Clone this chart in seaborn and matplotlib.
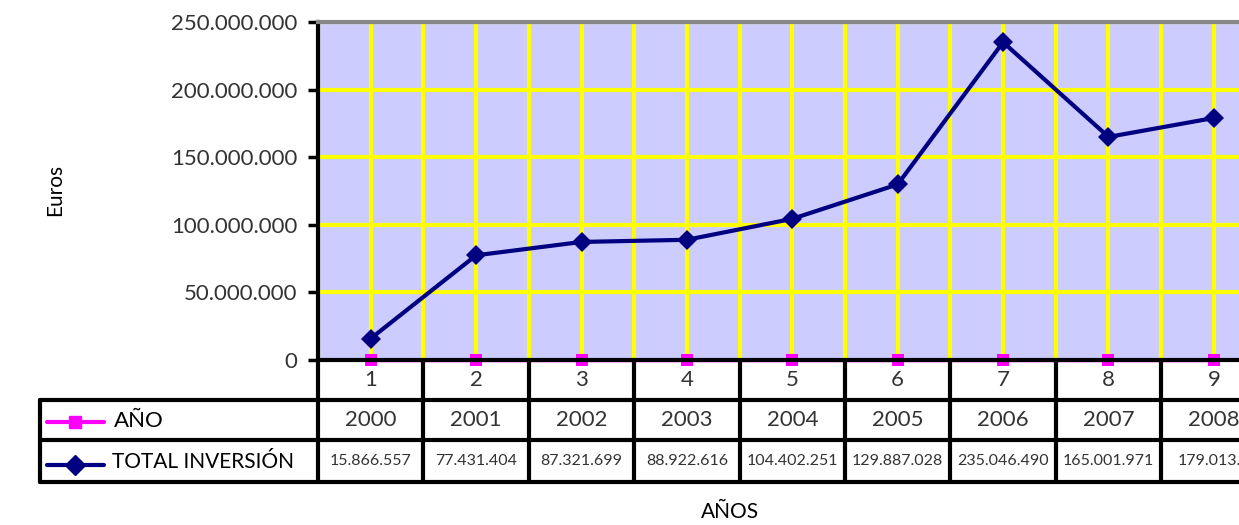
import numpy as np
import pandas as pd
import matplotlib
matplotlib.use("Agg")
import matplotlib.pyplot as plt
import matplotlib.transforms as mtransforms
import seaborn as sns
from matplotlib.ticker import FuncFormatter

# data
categorias = [1, 2, 3, 4, 5, 6, 7, 8, 9]
anos = [2000, 2001, 2002, 2003, 2004, 2005, 2006, 2007, 2008]
total_inversion = [15866557, 77431404, 87321699, 88922616, 104402251,
                   129887028, 235046490, 165001971, 179013200]
total_labels = ["15.866.557", "77.431.404", "87.321.699", "88.922.616", "104.402.251",
                "129.887.028", "235.046.490", "165.001.971", "179.013.2"]
y_ticks = [0, 50000000, 100000000, 150000000, 200000000, 250000000]

sns.set_theme(style="white")
plt.rcParams['font.family'] = ['Lato', 'DejaVu Sans']

W, H = 1239, 525
fig = plt.figure(figsize=(W / 100, H / 100), dpi=100)
left_px, top_px, bottom_px = 318, 22, 360
cat_w = 105.4
ax = fig.add_axes([left_px / W, 1 - bottom_px / H, 9 * cat_w / W, (bottom_px - top_px) / H])
ax.set_facecolor("#CCCCFF")

df = pd.DataFrame({"cat": categorias, "ano": anos, "total": total_inversion})

# grid lines at centers and boundaries
for x in np.arange(0.5, 10.0, 0.5):
    ax.axvline(x, color="#FFFF00", lw=3, zorder=1)
for y in y_ticks[1:]:
    ax.axhline(y, color="#FFFF00", lw=3, zorder=1)

sns.lineplot(data=df, x="cat", y="ano", ax=ax, color="#FF00FF", lw=2.5,
             marker="s", markersize=9, markeredgewidth=0, zorder=3, clip_on=False)
sns.lineplot(data=df, x="cat", y="total", ax=ax, color="#000080", lw=3,
             marker="D", markersize=10, markeredgewidth=0, zorder=4)

ax.set_xlim(0.5, 9.5)
ax.set_ylim(0, 250000000)
ax.set_yticks(y_ticks)
ax.yaxis.set_major_formatter(FuncFormatter(lambda v, p: f"{int(v):,}".replace(",", ".")))
ax.set_xticks([])
ax.set_xlabel("")
ax.set_ylabel("")
ax.tick_params(axis="y", length=7, width=2.5, color="black", direction="out",
               labelsize=16, labelcolor="#333333", pad=8, left=True)
ax.spines["right"].set_visible(False)
ax.spines["top"].set_color("#888888")
ax.spines["top"].set_linewidth(3)
ax.spines["left"].set_color("black")
ax.spines["left"].set_linewidth(3)
ax.spines["bottom"].set_color("black")
ax.spines["bottom"].set_linewidth(3)
ax.spines["bottom"].set_zorder(5)

# data table below the plot
tr = mtransforms.blended_transform_factory(ax.transData, fig.transFigure)
def fy(py):
    return 1 - py / H

rows = [360, 400, 440, 482]
tbl_left = 40 / W
for py in rows[1:]:
    ax.plot([tbl_left, 1.05], [fy(py), fy(py)], transform=fig.transFigure,
            color="black", lw=3, clip_on=False, zorder=6)
ax.plot([tbl_left, tbl_left], [fy(400), fy(482)], transform=fig.transFigure,
        color="black", lw=3, clip_on=False, zorder=6)
for x in np.arange(0.5, 10.0, 1.0):
    ax.plot([x, x], [fy(360), fy(482)], transform=tr, color="black", lw=3,
            clip_on=False, zorder=6)

for c, a, t in zip(categorias, anos, total_labels):
    ax.text(c, fy(380), str(c), transform=tr, ha="center", va="center",
            fontsize=16, color="#333333")
    ax.text(c, fy(420), str(a), transform=tr, ha="center", va="center",
            fontsize=16, color="#333333")
    ax.text(c, fy(461), t, transform=tr, ha="center", va="center",
            fontsize=11.5, color="#333333")

# legend keys in the table
ax.plot([47 / W, 104 / W], [fy(422), fy(422)], transform=fig.transFigure,
        color="#FF00FF", lw=3, clip_on=False)
ax.plot([75 / W], [fy(422)], transform=fig.transFigure, color="#FF00FF",
        marker="s", markersize=8, clip_on=False)
ax.plot([47 / W, 104 / W], [fy(465), fy(465)], transform=fig.transFigure,
        color="#000080", lw=3, clip_on=False)
ax.plot([75 / W], [fy(465)], transform=fig.transFigure, color="#000080",
        marker="D", markersize=10, clip_on=False)
fig.text(114 / W, fy(421), "AÑO", ha="left", va="center", fontsize=16, color="black")
fig.text(112 / W, fy(462), "TOTAL INVERSIÓN", ha="left", va="center", fontsize=15, color="black")

fig.text(55 / W, fy(190), "Euros", rotation=90, ha="center", va="center",
         fontsize=15, color="black")
fig.text(730 / W, fy(512), "AÑOS", ha="center", va="center", fontsize=15, color="black")

fig.savefig("out.png", dpi=100)
